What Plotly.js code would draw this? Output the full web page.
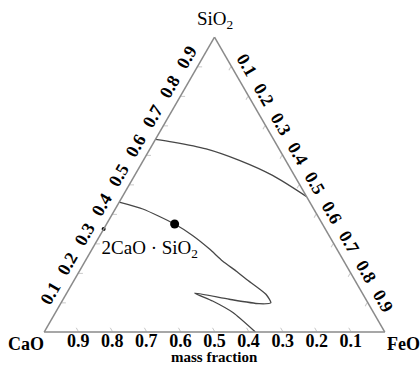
<!DOCTYPE html>
<html>
<head>
<meta charset="utf-8">
<script src="https://cdn.plot.ly/plotly-3.0.1.min.js"></script>
<style>html,body{margin:0;padding:0;background:#fff;}#chart{width:420px;height:369px;}</style>
</head>
<body>
<div id="chart"></div>
<script>
// Tick values (mass fraction)
var tickValues = [0.1, 0.2, 0.3, 0.4, 0.5, 0.6, 0.7, 0.8, 0.9];
var tickLabels = ['0.1', '0.2', '0.3', '0.4', '0.5', '0.6', '0.7', '0.8', '0.9'];

// Upper boundary curve (SiO2, CaO, FeO mass fractions)
var upperSiO2 = [0.653, 0.644, 0.621, 0.582, 0.531, 0.459];
var upperCaO  = [0.347, 0.300, 0.214, 0.136, 0.064, 0.000];
var upperFeO  = [0.000, 0.056, 0.165, 0.282, 0.405, 0.541];

// Lower boundary curve
var lowerSiO2 = [0.440, 0.417, 0.366, 0.327, 0.281, 0.241, 0.206, 0.179, 0.128, 0.099, 0.096, 0.111, 0.132, 0.105, 0.066, 0.000];
var lowerCaO  = [0.560, 0.502, 0.434, 0.401, 0.374, 0.356, 0.333, 0.317, 0.285, 0.285, 0.321, 0.401, 0.492, 0.453, 0.413, 0.380];
var lowerFeO  = [0.000, 0.081, 0.200, 0.272, 0.345, 0.403, 0.461, 0.504, 0.587, 0.616, 0.583, 0.488, 0.376, 0.442, 0.521, 0.620];

// Marked points
var bigDot = {SiO2: [0.366], CaO: [0.434], FeO: [0.200]};
var c2sPoint = {SiO2: [0.349], CaO: [0.651], FeO: [0.000]};
var c2sLabelPos = {SiO2: [0.282], CaO: [0.549], FeO: [0.169]};
var c2sLabel = ['2CaO · SiO<sub>2</sub>'];

var lineColor = '#474747';
var tickSize = 18;

var traces = [
  {type: 'scatterternary', mode: 'lines', a: upperSiO2, b: upperCaO, c: upperFeO,
   line: {color: lineColor, width: 1.3, shape: 'spline', smoothing: 0.8}, hoverinfo: 'skip', showlegend: false, cliponaxis: false},
  {type: 'scatterternary', mode: 'lines', a: lowerSiO2, b: lowerCaO, c: lowerFeO,
   line: {color: lineColor, width: 1.3, shape: 'spline', smoothing: 0.6}, hoverinfo: 'skip', showlegend: false, cliponaxis: false},
  {type: 'scatterternary', mode: 'markers', a: bigDot.SiO2, b: bigDot.CaO, c: bigDot.FeO,
   marker: {color: '#000', size: 9}, hoverinfo: 'skip', showlegend: false, cliponaxis: false},
  {type: 'scatterternary', mode: 'markers', a: c2sPoint.SiO2, b: c2sPoint.CaO, c: c2sPoint.FeO,
   marker: {color: '#000', size: 4}, hoverinfo: 'skip', showlegend: false, cliponaxis: false},
  {type: 'scatterternary', mode: 'text', a: c2sLabelPos.SiO2, b: c2sLabelPos.CaO, c: c2sLabelPos.FeO,
   text: c2sLabel, textposition: 'middle center',
   textfont: {family: 'Liberation Serif', size: 19, color: '#000'}, hoverinfo: 'skip', showlegend: false, cliponaxis: false}
];

function axisDef(angle, texts) {
  return {
    title: {text: ''},
    tickmode: 'array', tickvals: tickValues, ticktext: texts,
    tickangle: angle,
    tickfont: {family: 'Liberation Serif', size: tickSize, color: '#000', weight: 'bold'},
    ticks: 'inside', ticklen: 4, tickwidth: 1, tickcolor: '#c8c8c8',
    showgrid: false, showline: true, linecolor: '#8a8a8a', linewidth: 1.5,
    min: 0
  };
}

// bottom-edge labels are raised to sit closer to the edge, as in the reference
var bottomTexts = tickLabels.map(function (t) {
  return '<sup><span style="font-size:' + tickSize + 'px">' + t + '</span></sup>';
});
// right-edge labels are nudged down along the edge (leading em space)
var rightTexts = tickLabels.map(function (t) { return '\u2003' + t; });

var vertexFont = {family: 'Liberation Serif', size: 18, color: '#000', weight: 'bold'};

var layout = {
  width: 420, height: 369,
  margin: {l: 44, r: 35, t: 37, b: 37},
  paper_bgcolor: '#fff',
  showlegend: false,
  ternary: {
    sum: 1,
    bgcolor: '#fff',
    aaxis: axisDef(-60, tickLabels),
    baxis: axisDef(0, bottomTexts),
    caxis: axisDef(60, rightTexts)
  },
  annotations: [
    {text: 'SiO<sub>2</sub>', xref: 'paper', yref: 'paper', x: 0.5, y: 1.058, showarrow: false,
     font: {family: 'Liberation Serif', size: 19, color: '#000'}, xanchor: 'center', yanchor: 'middle'},
    {text: 'CaO', xref: 'paper', yref: 'paper', x: -0.053, y: -0.041, showarrow: false,
     font: vertexFont, xanchor: 'center', yanchor: 'middle'},
    {text: 'FeO', xref: 'paper', yref: 'paper', x: 1.053, y: -0.041, showarrow: false,
     font: vertexFont, xanchor: 'center', yanchor: 'middle'},
    {text: 'mass fraction', xref: 'paper', yref: 'paper', x: 0.5, y: -0.085, showarrow: false,
     font: {family: 'Liberation Serif', size: 15, color: '#000', weight: 'bold'}, xanchor: 'center', yanchor: 'middle'}
  ]
};

Plotly.newPlot('chart', traces, layout, {displayModeBar: false, staticPlot: true});
</script>
</body>
</html>
